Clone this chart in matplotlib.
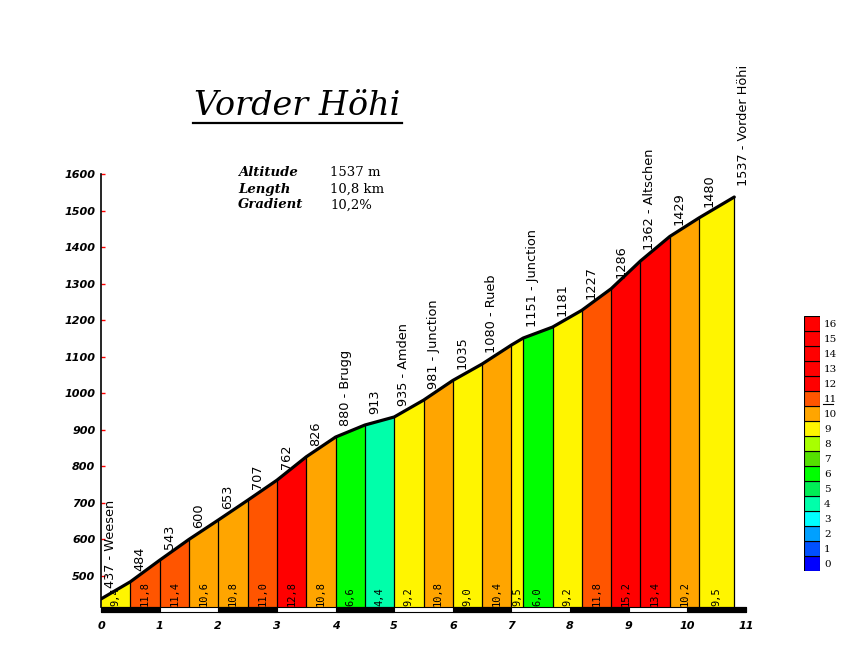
import matplotlib
matplotlib.use("Agg")
import matplotlib.pyplot as plt
from matplotlib.patches import Rectangle
from matplotlib.lines import Line2D
import numpy as np

# profile points (km, altitude)
km = [0, 0.5, 1.0, 1.5, 2.0, 2.5, 3.0, 3.5, 4.0, 4.5, 5.0, 5.5, 6.0, 6.5,
      7.0, 7.2, 7.7, 8.2, 8.7, 9.2, 9.7, 10.2, 10.8]
alt = [437, 484, 543, 600, 653, 707, 762, 826, 880, 913, 935, 981, 1035, 1080,
       1132, 1151, 1181, 1227, 1286, 1362, 1429, 1480, 1537]
# place names, None = no label on that point
names = ["Weesen", "", "", "", "", "", "", "", "Brugg", "", "Amden", "Junction", "", "Rueb",
         None, "Junction", "", "", "", "Altschen", "", "", "Vorder Höhi"]
# gradient of each segment (%)
grades = [9.4, 11.8, 11.4, 10.6, 10.8, 11.0, 12.8, 10.8, 6.6, 4.4, 9.2, 10.8,
          9.0, 10.4, 9.5, 6.0, 9.2, 11.8, 15.2, 13.4, 10.2, 9.5]

# colour scale 0..16 %
scale_colors = ["#0000FF", "#0050FF", "#00A0FF", "#00FFFF", "#00FFAA", "#00EE55",
                "#00FF00", "#55E000", "#A8FF00", "#FFF500", "#FFA500", "#FF5500",
                "#FF0000", "#FF0000", "#FF0000", "#FF0000", "#FF0000"]

title = "Vorder Höhi"
info_keys = ["Altitude", "Length", "Gradient"]
info_vals = ["1537 m", "10,8 km", "10,2%"]

W, H = 866, 656
fig = plt.figure(figsize=(W / 100, H / 100), dpi=100)
fig.patch.set_facecolor("white")

def fx(px):
    return px / W

def fy(py):
    return 1 - py / H

ax = fig.add_axes([fx(101), fy(607), (746 - 101) / W, (607 - 174) / H])
ax.set_xlim(0, 11)
ax.set_ylim(415, 1600)

# coloured segments
for i, g in enumerate(grades):
    xs = [km[i], km[i + 1]]
    ys = [alt[i], alt[i + 1]]
    c = scale_colors[min(int(g), 16)]
    ax.fill_between(xs, 415, ys, color=c, linewidth=0)
    ax.plot([km[i + 1], km[i + 1]], [415, alt[i + 1]], color="black", lw=0.9)
    ax.text((km[i] + km[i + 1]) / 2, 419, f"{g:.1f}".replace(".", ","),
            rotation=90, ha="center", va="bottom", fontsize=7.5,
            family="DejaVu Sans Mono", color="black")

ax.plot(km, alt, color="black", lw=2.3, solid_capstyle="round")

# altitude labels
for x, a, n in zip(km, alt, names):
    if n is None:
        continue
    s = f"{a}" if n == "" else f"{a} - {n}"
    ax.annotate(s, (x, a), xytext=(3, 11), textcoords="offset pixels",
                rotation=90, ha="left", va="bottom", fontsize=9.3,
                family="DejaVu Sans", annotation_clip=False)

# distance bar under the axis
tr = ax.get_xaxis_transform()
bh = 5 / (607 - 174)
ax.add_patch(Rectangle((0, -bh), 11, bh, transform=tr, facecolor="white",
                       edgecolor="black", lw=0.8, clip_on=False))
for k in range(0, 11, 2):
    ax.add_patch(Rectangle((k, -bh), 1, bh, transform=tr, facecolor="black",
                           edgecolor="black", lw=0.8, clip_on=False))

for sp in ["top", "right", "bottom"]:
    ax.spines[sp].set_visible(False)
ax.spines["left"].set_linewidth(1.2)

ax.set_xticks(range(0, 12))
ax.set_xticklabels([str(k) for k in range(0, 12)], fontsize=8,
                   fontweight="bold", fontstyle="italic")
ax.tick_params(axis="x", length=0, pad=10)
yt = list(range(500, 1700, 100))
ax.set_yticks(yt)
ax.set_yticklabels([str(v) for v in yt], fontsize=8, fontweight="bold",
                   fontstyle="italic")
ax.tick_params(axis="y", direction="in", length=3, width=1, color="red", pad=4)

# title and info block
fig.text(fx(297), fy(106), title, ha="center", va="center", fontsize=24,
         family="DejaVu Serif", fontstyle="italic")
fig.add_artist(Line2D([fx(193), fx(402)], [fy(123), fy(123)], color="black", lw=1.6))
for j, (k, v) in enumerate(zip(info_keys, info_vals)):
    yy = fy(173 + 16 * j)
    fig.text(fx(238), yy, k, ha="left", va="center", fontsize=9.5,
             family="DejaVu Serif", fontweight="bold", fontstyle="italic")
    fig.text(fx(330), yy, v, ha="left", va="center", fontsize=9.5,
             family="DejaVu Serif")

# colour legend
lax = fig.add_axes([fx(804), fy(571), 16 / W, 255 / H])
for i, c in enumerate(scale_colors):
    lax.bar(0, 1, bottom=i, width=1, color=c, edgecolor="black", lw=0.8)
lax.set_xlim(-0.5, 0.5)
lax.set_ylim(0, 17)
lax.set_xticks([])
lax.yaxis.tick_right()
lax.set_yticks(np.arange(17) + 0.5)
lax.set_yticklabels([str(i) for i in range(17)], fontsize=7.5, family="DejaVu Serif")
lax.tick_params(axis="y", length=0, pad=3)
for sp in lax.spines.values():
    sp.set_visible(False)
# the "11" label is underlined in the original
fig.add_artist(Line2D([fx(823), fx(833)], [fy(404), fy(404)], color="black", lw=0.8))

fig.savefig("out.png", dpi=100, facecolor="white")
